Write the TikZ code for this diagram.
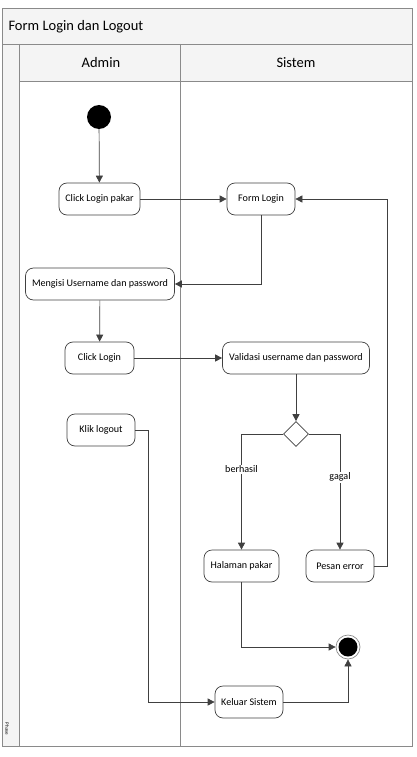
\documentclass[tikz,border=0pt]{standalone}
\usepackage{fontspec}
\setmainfont{Carlito}
\usetikzlibrary{arrows.meta,shapes.geometric}
\definecolor{linegray}{HTML}{404040}
\definecolor{framegray}{HTML}{8A8A8A}
\definecolor{bandgray}{HTML}{F4F4F4}
\tikzset{
  every picture/.style={x=1pt,y=-1pt},
  lane/.style={draw=framegray, line width=0.9pt},
  act/.style={draw=linegray, rounded corners=8pt, line width=0.7pt,
    minimum height=32pt, inner sep=1pt, font=\fontsize{10.1}{12}\selectfont},
  flow/.style={draw=linegray, line width=0.7pt,
    -{Triangle[length=7pt,width=7pt]}},
  guard/.style={fill=white, inner sep=1pt, font=\fontsize{10.1}{12}\selectfont}
}

\begin{document}
\begin{tikzpicture}
  \useasboundingbox (0,0) rectangle (416,757);
  % swimlane frame
  \fill[bandgray] (2,8) rectangle (412,44);
  \fill[bandgray] (19,44) rectangle (412,81);
  \fill[bandgray] (2,44) rectangle (19,746);
  \draw[lane] (2,8) rectangle (412,746);
  \draw[lane] (2,44) -- (412,44);
  \draw[lane] (19,81) -- (412,81);
  \draw[lane] (19,44) -- (19,746);
  \draw[lane] (180,44) -- (180,746);
  \node[anchor=west, font=\fontsize{14.5}{16}\selectfont] (title) at (5,27) {Form Login dan Logout};
  \node[font=\fontsize{14.5}{16}\selectfont] (admin) at (101,63) {Admin};
  \node[font=\fontsize{14.5}{16}\selectfont] (sistem) at (296,63) {Sistem};
  \node[rotate=-90, font=\fontsize{5}{6}\selectfont] (phase) at (7,729) {Phase};

  % activities
  \node[circle, fill=black, minimum size=24pt, inner sep=0pt] (start) at (99,117) {};
  \node[act, minimum width=81pt] (clickpakar) at (99.5,199) {Click Login pakar};
  \node[act, minimum width=68pt] (formlogin) at (261,199) {Form Login};
  \node[act, minimum width=149pt] (mengisi) at (100,284) {Mengisi Username dan password};
  \node[act, minimum width=69pt] (clicklogin) at (99.5,358) {Click Login};
  \node[act, minimum width=147pt] (validasi) at (296,358) {Validasi username dan password};
  \node[diamond, draw=linegray, line width=0.7pt, minimum size=25pt, inner sep=0pt] (cek) at (296,434) {};
  \node[act, minimum width=68pt] (logout) at (101,430) {Klik logout};
  \node[act, minimum width=75pt] (halaman) at (241.5,566) {Halaman pakar};
  \node[act, minimum width=68pt] (pesan) at (340,566) {Pesan error};
  \node[act, minimum width=68pt] (keluar) at (249,702) {Keluar Sistem};
  \node[circle, draw=framegray, line width=0.7pt, minimum size=24pt, inner sep=0pt] (end) at (348,647) {};
  \fill[black] (end.center) circle (9.5pt);

  % flows
  \draw[flow] (start) -- (clickpakar);
  \draw[flow] (clickpakar) -- (formlogin);
  \draw[flow] (formlogin.south) |- (mengisi.east);
  \draw[flow] (mengisi) -- (clicklogin);
  \draw[flow] (clicklogin) -- (validasi);
  \draw[flow] (validasi) -- (cek);
  \draw[flow] (cek.west) -| node[guard, pos=0.652] {berhasil} (halaman.north);
  \draw[flow] (cek.east) -| node[guard, pos=0.687] {gagal} (pesan.north);
  \draw[flow] (pesan.east) -- ++(13,0) |- (formlogin.east);
  \draw[flow] (halaman.south) |- (end.west);
  \draw[flow] (keluar.east) -| (end.south);
  \draw[flow] (logout.east) -- ++(13,0) |- (keluar.west);
\end{tikzpicture}
\end{document}
